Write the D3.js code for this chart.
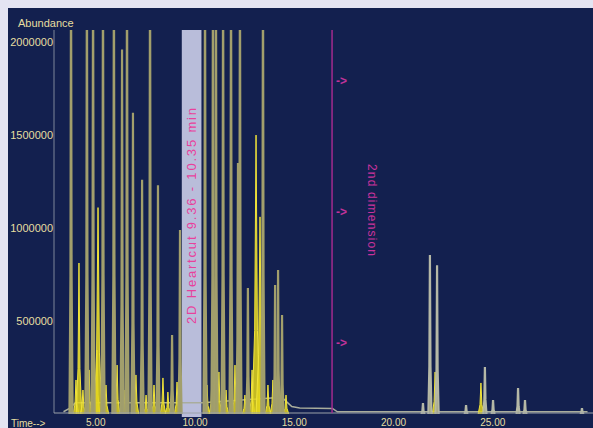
<!DOCTYPE html>
<html>
<head>
<meta charset="utf-8">
<script src="https://cdn.jsdelivr.net/npm/d3@7/dist/d3.min.js"></script>
<style>
  body { margin: 0; background: #e4e4f2; }
  svg { display: block; font-family: "Liberation Sans", Arial, sans-serif; }
</style>
</head>
<body>
<svg id="chart" width="593" height="428"></svg>
<script>
// Chromatogram (time in min, abundance)
// grey / olive trace
const peakTimes = [3.78, 4.58, 4.89, 5.39, 5.94, 6.35, 6.60, 6.90, 7.36, 7.76, 8.16, 8.87, 9.27,
  10.53, 10.93, 11.08, 11.44, 11.84, 12.19, 12.29, 12.69, 13.45, 14.06, 14.21, 14.41,
  21.51, 21.86, 22.22, 23.68, 24.63, 25.04, 26.30, 26.65, 29.52];
const peakHeights = [2500000, 2500000, 2500000, 2500000, 2500000, 1960000, 2500000, 1620000, 1260000, 2500000, 1230000, 425000, 990000,
  2500000, 2500000, 2500000, 2500000, 2500000, 1350000, 2500000, 677000, 2500000, 694000, 774000, 532000,
  59000, 855000, 800000, 48000, 253000, 75000, 140000, 75000, 32000];

// yellow trace
const yellowTimes = [4.03, 4.18, 4.38, 4.69, 5.09, 5.14, 5.54, 6.10, 6.50, 7.05, 7.56, 7.96, 8.41, 8.66, 9.12,
  10.63, 10.88, 11.23, 11.59, 12.04, 12.54, 12.90, 13.10, 13.30, 13.70, 13.95, 14.61,
  22.12, 24.43];
const yellowHeights = [183000, 812000, 129000, 237000, 344000, 1110000, 156000, 263000, 129000, 210000, 102000, 156000, 194000, 118000, 172000,
  156000, 194000, 226000, 129000, 263000, 102000, 237000, 1500000, 1060000, 156000, 183000, 102000,
  226000, 167000];

// baseline under the peaks
const baseTimes = [3.40, 3.70, 4.00, 9.30, 10.40, 14.40, 14.70, 14.90, 15.30, 16.95, 17.20, 29.80];
const baseValues = [12000, 30000, 60000, 60000, 60000, 90000, 60000, 40000, 32000, 30000, 12000, 12000];

const yTicks = [500000, 1000000, 1500000, 2000000];
const xTicks = [5, 10, 15, 20, 25];
const heartcut = [9.36, 10.35];
const secondDimTime = 16.93;
const arrowLevels = [1790000, 1085000, 380000];

const svg = d3.select("#chart");
const W = 593, H = 428;
const plotLeft = 54, plotTop = 30, plotBottom = 413;

svg.append("rect").attr("x", 8).attr("y", 8).attr("width", W - 8).attr("height", H - 8)
  .attr("fill", "#13204f");

const x = d3.scaleLinear().domain([0, 30]).range([-4, 591.5]);
const y = d3.scaleLinear().domain([0, 2065000]).range([414, plotTop]);

svg.append("defs").append("clipPath").attr("id", "plot")
  .append("rect").attr("x", plotLeft).attr("y", plotTop)
  .attr("width", W - plotLeft).attr("height", plotBottom - plotTop + 1);

// heartcut band
svg.append("rect")
  .attr("x", x(heartcut[0])).attr("y", plotTop)
  .attr("width", x(heartcut[1]) - x(heartcut[0])).attr("height", 417 - plotTop)
  .attr("fill", "#b9bdda");

const g = svg.append("g").attr("clip-path", "url(#plot)");

// baseline
const baseLine = d3.line().x(d => x(d[0])).y(d => y(d[1]));
g.append("path")
  .datum(d3.zip(baseTimes, baseValues))
  .attr("d", baseLine)
  .attr("fill", "none").attr("stroke", "#a9ad9c").attr("stroke-width", 1.5);

// yellow peaks (wider bodies)
const spike = (t, h, hw) => baseLine([[t - hw, 0], [t - hw * 0.35, h * 0.3], [t, h], [t + hw * 0.35, h * 0.3], [t + hw, 0]]);
g.selectAll(".yp").data(d3.zip(yellowTimes, yellowHeights)).join("path")
  .attr("class", "yp")
  .attr("d", d => spike(d[0], d[1], d[1] > 1000000 ? 0.2 : 0.14))
  .attr("fill", "#e3d51c").attr("fill-opacity", 0.85)
  .attr("stroke", "#f0e33a").attr("stroke-width", 1);

// grey / olive peaks
g.selectAll(".gp").data(d3.zip(peakTimes, peakHeights)).join("path")
  .attr("class", "gp")
  .attr("d", d => spike(d[0], d[1], 0.08))
  .attr("fill", "#9d9b6e")
  .attr("stroke", d => d[0] > 20 ? "#b5b8a6" : "#a29f6c").attr("stroke-width", 2.2);

// axes
const yAxis = svg.append("g").attr("transform", `translate(${plotLeft},0)`)
  .call(d3.axisLeft(y).tickValues(yTicks).tickFormat(d3.format("d")).tickSize(0).tickPadding(1));
yAxis.select(".domain").attr("stroke", "#7f869a").attr("d", `M0,${plotTop}V${plotBottom}`);
yAxis.selectAll("text").attr("fill", "#e6dea0").attr("font-size", 11)
  .attr("font-family", "Liberation Sans, Arial, sans-serif");

const xAxis = svg.append("g").attr("transform", `translate(0,${plotBottom})`)
  .call(d3.axisBottom(x).tickValues(xTicks).tickFormat(d3.format(".2f")).tickSize(0).tickPadding(6));
xAxis.select(".domain").attr("stroke", "#9ca2aa").attr("d", `M${plotLeft},0H${W}`);
xAxis.selectAll("text").attr("fill", "#e6dea0").attr("font-size", 10)
  .attr("font-family", "Liberation Sans, Arial, sans-serif");

svg.append("text").attr("x", 18).attr("y", 27).text("Abundance")
  .attr("fill", "#e6dea0").attr("font-size", 11);
svg.append("text").attr("x", 11).attr("y", 427).text("Time-->")
  .attr("fill", "#e6dea0").attr("font-size", 10);

// heartcut label
const bandMid = (x(heartcut[0]) + x(heartcut[1])) / 2;
svg.append("text")
  .attr("transform", `translate(${bandMid + 4},216) rotate(-90)`)
  .attr("text-anchor", "middle")
  .attr("fill", "#e8419c").attr("font-size", 13)
  .attr("textLength", 216)
  .text("2D Heartcut 9.36 - 10.35 min");

// second dimension marker
svg.append("line")
  .attr("x1", x(secondDimTime)).attr("x2", x(secondDimTime))
  .attr("y1", plotTop).attr("y2", plotBottom)
  .attr("stroke", "#a32a8e").attr("stroke-width", 1.5);
svg.selectAll(".arrow").data(arrowLevels).join("text")
  .attr("class", "arrow")
  .attr("x", x(secondDimTime) + 4).attr("y", d => y(d) + 4)
  .attr("fill", "#c1339a").attr("font-size", 12).attr("font-weight", "bold")
  .text("->");
svg.append("text")
  .attr("transform", `translate(${x(secondDimTime) + 36},210) rotate(90)`)
  .attr("text-anchor", "middle")
  .attr("fill", "#c8329c").attr("font-size", 12)
  .attr("textLength", 92)
  .text("2nd dimension");
</script>
</body>
</html>
